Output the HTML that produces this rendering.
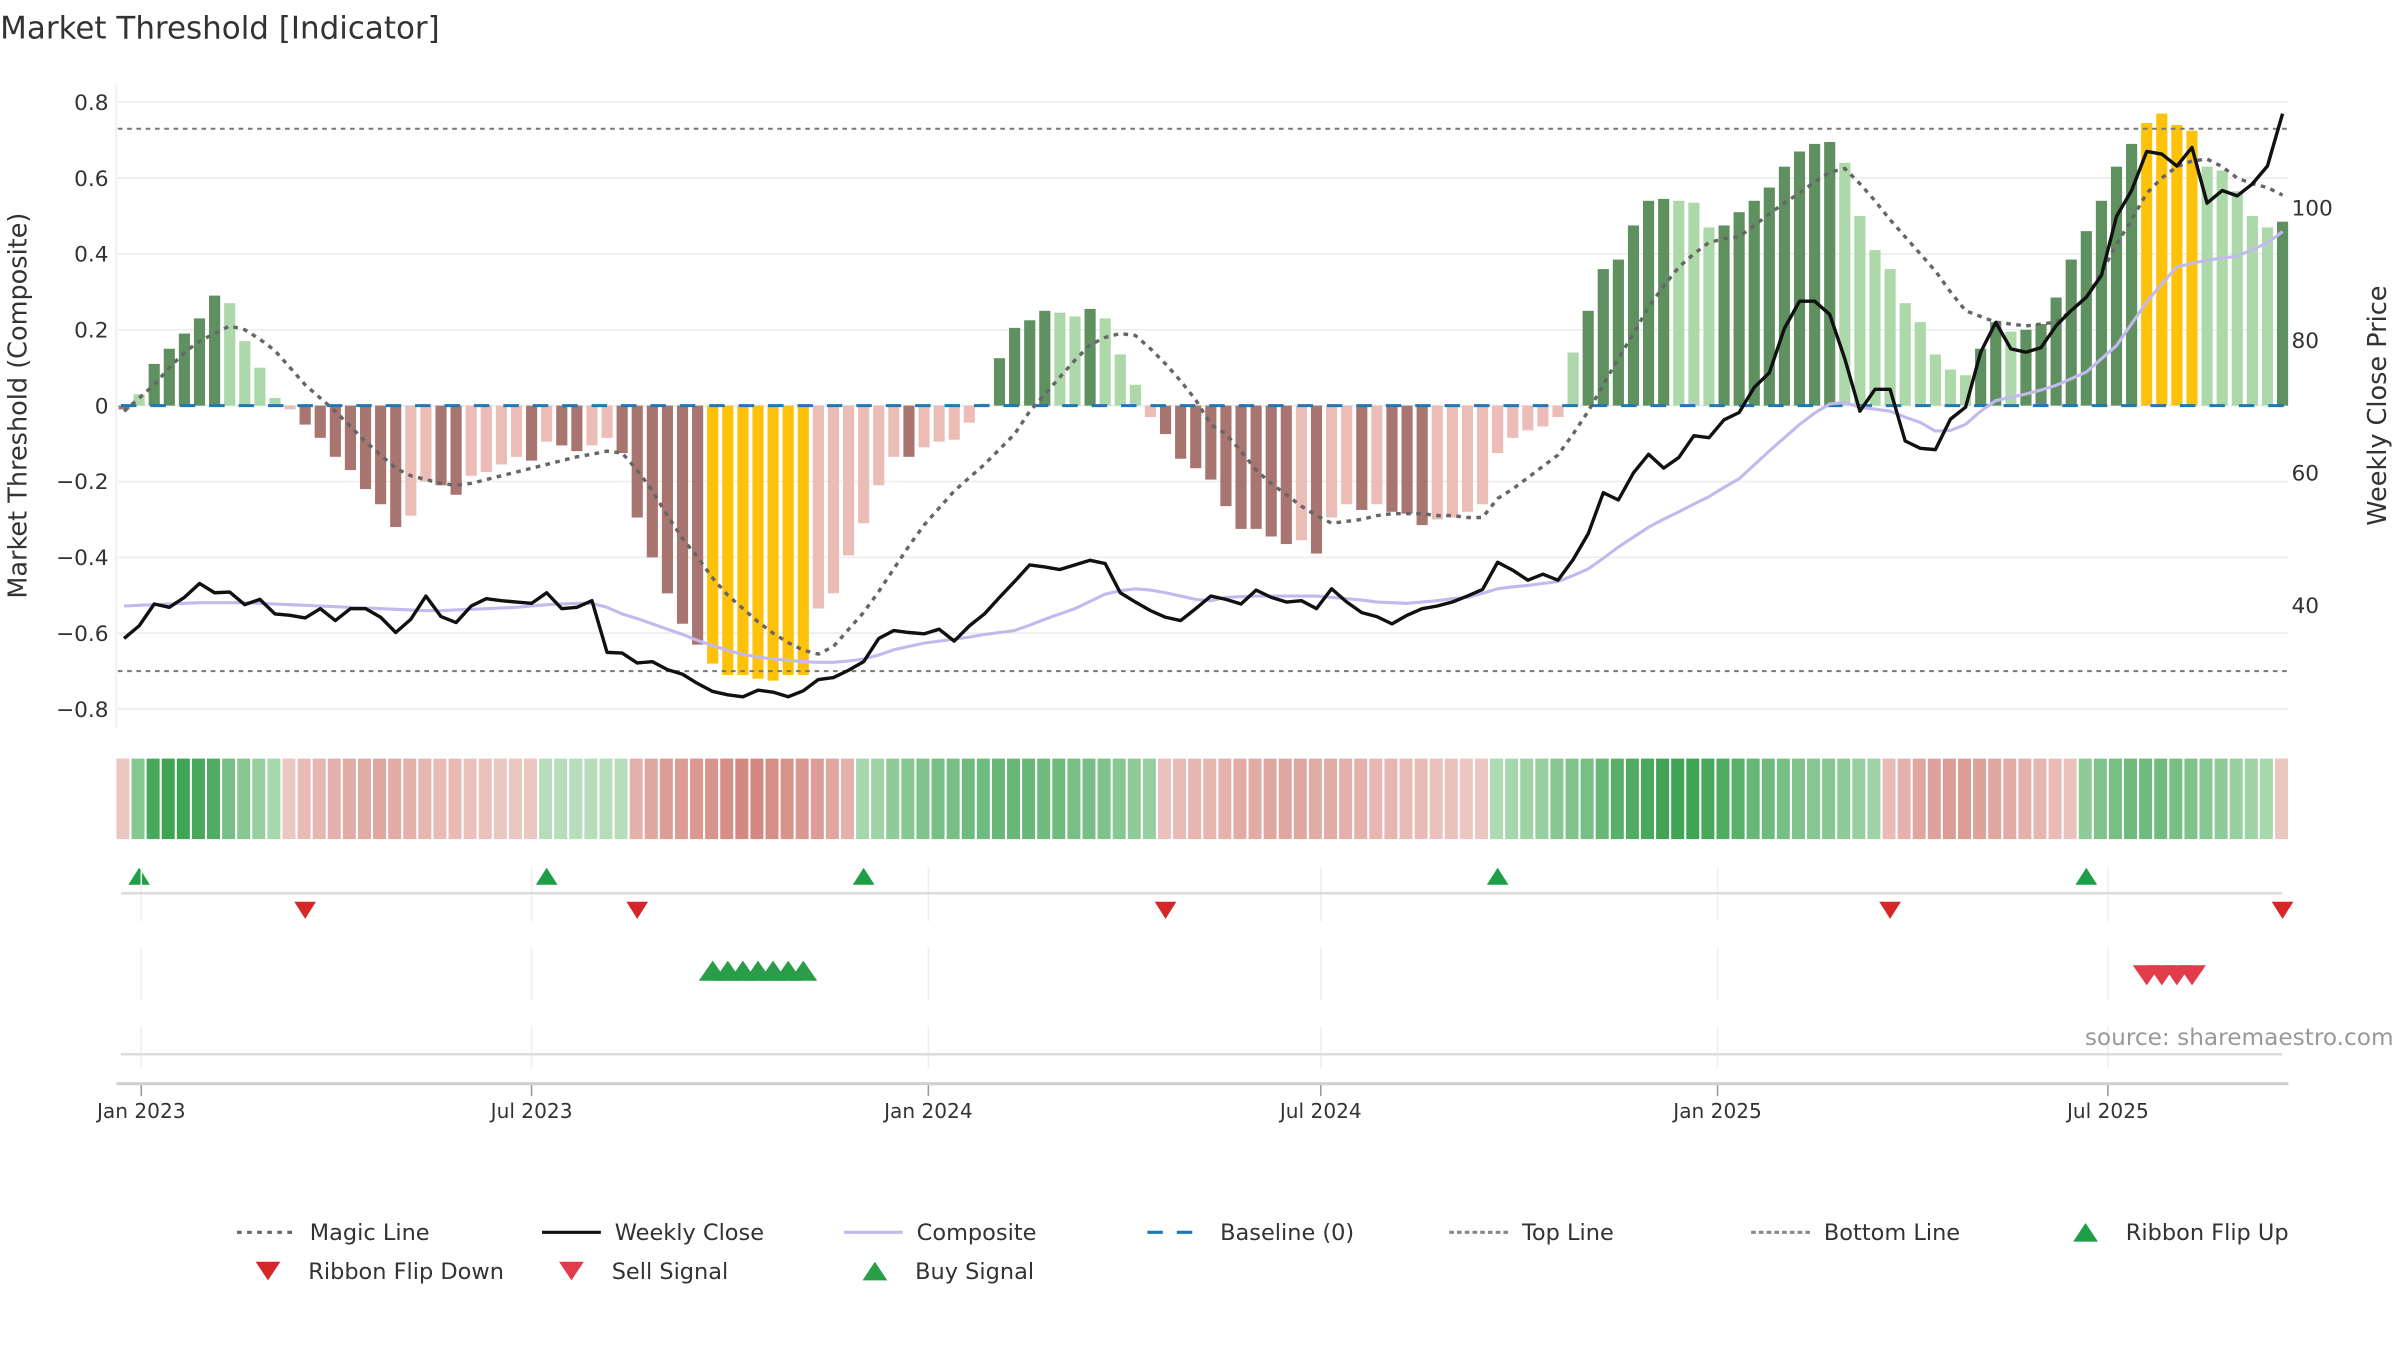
<!DOCTYPE html>
<html><head><meta charset="utf-8"><title>Market Threshold [Indicator]</title>
<style>
html,body{margin:0;padding:0;background:#fff;}
svg{display:block;font-family:"DejaVu Sans","Liberation Sans",sans-serif;}
</style></head>
<body>
<svg id="chart" width="2400" height="1350" viewBox="0 0 1550 872" xmlns="http://www.w3.org/2000/svg">
<text x="0" y="25" font-size="20" fill="#333">Market Threshold [Indicator]</text>
<g id="grid"></g>
<g id="bars"></g>
<g id="lines"></g>
<g id="ribbon"></g>
<g id="signals"></g>
<g id="axes"></g>
<text transform="translate(17,262) rotate(-90)" text-anchor="middle" font-size="16.5" fill="#333">Market Threshold (Composite)</text>
<text transform="translate(1541,262) rotate(-90)" text-anchor="middle" font-size="16.5" fill="#333">Weekly Close Price</text>
<text x="1546" y="675" text-anchor="end" font-size="15" fill="#999">source: sharemaestro.com</text>
<g id="legend"></g>
</svg>
<script>
// ---- data ----
const startDate = Date.UTC(2022,11,24);
const composite = [
-0.01,0.03,0.11,0.15,0.19,0.23,0.29,0.27,0.17,0.10,
0.02,-0.01,-0.05,-0.085,-0.135,-0.17,-0.22,-0.26,-0.32,-0.29,
-0.2,-0.21,-0.235,-0.185,-0.175,-0.155,-0.135,-0.145,-0.095,-0.105,
-0.12,-0.105,-0.085,-0.125,-0.295,-0.4,-0.495,-0.575,-0.63,-0.68,
-0.71,-0.71,-0.72,-0.725,-0.71,-0.71,-0.535,-0.495,-0.395,-0.31,
-0.21,-0.135,-0.135,-0.11,-0.095,-0.09,-0.045,0.005,0.125,0.205,
0.225,0.25,0.245,0.235,0.255,0.23,0.135,0.055,-0.03,-0.075,
-0.14,-0.165,-0.195,
-0.265,-0.325,-0.325,-0.345,-0.365,-0.355,-0.39,-0.295,-0.26,-0.275,
-0.26,-0.28,-0.285,-0.315,-0.30,-0.295,-0.28,-0.26,-0.125,-0.085,
-0.065,-0.055,-0.03,0.14,0.25,0.36,0.385,0.475,0.54,0.545,
0.54,0.535,0.47,0.475,0.51,0.54,0.575,0.63,0.67,0.69,
0.695,0.64,0.50,0.41,0.36,0.27,0.22,0.135,0.095,0.08,
0.15,0.22,0.195,0.20,0.215,0.285,0.385,0.46,0.54,0.63,
0.69,0.745,0.77,0.74,0.725,0.63,0.62,0.565,0.50,0.47,
0.485];
const weeklyClose = [
35.0,36.9,40.2,39.7,41.2,43.3,41.9,42.0,40.1,40.9,
38.7,38.5,38.1,39.5,37.7,39.5,39.5,38.2,35.9,37.9,
41.4,38.3,37.4,39.9,41.0,40.7,40.5,40.3,41.9,39.5,
39.7,40.7,32.9,32.8,31.3,31.5,30.3,29.6,28.2,27.0,
26.5,26.2,27.2,26.9,26.2,27.1,28.8,29.1,30.2,31.5,
35.0,36.2,35.9,35.7,36.4,34.6,36.9,38.7,41.2,43.6,
46.1,45.8,45.4,46.1,46.8,46.3,41.9,40.5,39.2,38.2,
37.7,39.5,41.4,
40.9,40.2,42.3,41.2,40.5,40.7,39.5,42.5,40.5,38.9,
38.3,37.2,38.5,39.5,39.9,40.5,41.4,42.4,46.5,45.3,
43.8,44.7,43.8,46.9,50.8,57.0,55.9,60.0,62.8,60.7,
62.3,65.6,65.3,68.0,69.1,72.9,75.1,81.8,85.9,85.9,
83.9,77.2,69.3,72.6,72.6,64.8,63.7,63.5,68.1,69.9,
78.2,82.7,78.7,78.2,78.9,82.2,84.5,86.5,89.8,98.7,
102.6,108.5,108.1,106.3,109.1,100.7,102.6,101.8,103.6,106.3,
114.2];
const compositeLine = [
39.9,40.0,40.1,40.2,40.3,40.4,40.4,40.4,40.4,40.3,
40.2,40.1,40.0,39.9,39.8,39.7,39.6,39.5,39.4,39.3,
39.2,39.2,39.3,39.4,39.5,39.6,39.7,39.9,40.1,40.2,
40.3,40.3,39.7,38.7,38.0,37.2,36.4,35.6,34.7,33.9,
33.2,32.6,32.2,31.9,31.7,31.5,31.4,31.4,31.6,31.9,
32.5,33.3,33.8,34.3,34.6,34.9,35.2,35.6,35.9,36.2,
37.0,37.9,38.7,39.5,40.6,41.7,42.2,42.5,42.3,41.9,
41.4,40.9,40.7,
41.2,41.3,41.4,41.4,41.4,41.4,41.4,41.2,41.0,40.8,
40.5,40.4,40.3,40.5,40.7,41.0,41.2,41.8,42.5,42.8,
43.0,43.3,43.6,44.5,45.5,47.1,48.8,50.3,51.8,53.0,
54.1,55.3,56.4,57.8,59.1,61.2,63.3,65.3,67.3,69.0,
70.4,70.6,69.9,69.6,69.3,68.4,67.6,66.3,66.4,67.3,
69.3,70.9,71.4,71.9,72.5,73.2,74.2,75.2,77.2,79.2,
82.5,85.8,88.5,91.1,91.6,92.1,92.4,92.7,93.7,94.7,96.4];
const magicLine = [
-0.015,0.02,0.055,0.10,0.14,0.17,0.19,0.21,0.20,0.175,
0.145,0.10,0.055,0.02,-0.015,-0.055,-0.095,-0.13,-0.165,-0.185,
-0.195,-0.205,-0.21,-0.205,-0.195,-0.185,-0.175,-0.165,-0.155,-0.145,
-0.135,-0.128,-0.12,-0.125,-0.17,-0.225,-0.29,-0.35,-0.40,-0.455,
-0.50,-0.535,-0.57,-0.60,-0.625,-0.645,-0.655,-0.635,-0.59,-0.545,
-0.49,-0.43,-0.37,-0.315,-0.27,-0.225,-0.19,-0.155,-0.115,-0.075,
-0.015,0.03,0.075,0.12,0.16,0.18,0.19,0.185,0.15,0.11,
0.065,0.015,-0.05,
-0.075,-0.12,-0.17,-0.205,-0.235,-0.265,-0.29,-0.31,-0.305,-0.30,
-0.29,-0.285,-0.285,-0.285,-0.29,-0.29,-0.295,-0.295,-0.245,-0.22,
-0.19,-0.16,-0.13,-0.075,-0.015,0.055,0.125,0.19,0.26,0.315,
0.365,0.40,0.43,0.44,0.445,0.475,0.505,0.535,0.56,0.59,
0.615,0.625,0.585,0.54,0.49,0.445,0.40,0.355,0.30,0.25,
0.235,0.22,0.215,0.21,0.215,0.22,0.25,0.285,0.35,0.425,
0.49,0.56,0.60,0.63,0.645,0.65,0.63,0.60,0.585,0.575,
0.555];
const ribbon = [
-0.2,0.5,0.9,0.95,0.95,0.9,0.85,0.6,0.5,0.4,0.3,
-0.2,-0.3,-0.35,-0.4,-0.45,-0.45,-0.5,-0.45,-0.4,-0.35,-0.3,-0.3,-0.25,-0.25,-0.2,-0.2,-0.2,
0.2,0.2,0.2,0.2,0.2,0.2,
-0.4,-0.5,-0.6,-0.6,-0.65,-0.7,-0.75,-0.8,-0.8,-0.75,-0.7,-0.65,-0.6,-0.5,-0.4,
0.3,0.35,0.45,0.5,0.55,0.6,0.6,0.65,0.65,0.7,0.7,0.7,0.65,0.65,0.6,0.6,0.55,0.5,0.45,0.4,
-0.25,-0.3,-0.35,-0.35,-0.4,-0.45,-0.45,-0.5,-0.5,-0.5,-0.45,-0.45,-0.4,-0.4,-0.35,-0.35,-0.3,-0.3,-0.25,-0.25,-0.2,-0.2,
0.25,0.3,0.35,0.4,0.5,0.55,0.6,0.7,0.8,0.85,0.9,0.95,0.95,0.95,0.9,0.85,0.8,0.7,0.65,0.6,0.55,0.5,0.5,0.45,0.4,0.35,
-0.3,-0.4,-0.5,-0.55,-0.6,-0.6,-0.55,-0.5,-0.45,-0.4,-0.35,-0.3,-0.25,
0.45,0.55,0.6,0.65,0.65,0.65,0.6,0.55,0.5,0.45,0.4,0.35,0.3,
-0.2];
const flipUpIdx = [1,28,49,91,130];
const flipDownIdx = [12,34,69,117,143];
const buyIdx = [39,40,41,42,43,44,45];
const sellIdx = [134,135,136,137];
const leftTicks = [0.8,0.6,0.4,0.2,0,-0.2,-0.4,-0.6,-0.8];
const leftTickLabels = ["0.8","0.6","0.4","0.2","0","\u22120.2","\u22120.4","\u22120.6","\u22120.8"];
const rightTicks = [100,80,60,40];
const dateTicks = [[2023,0],[2023,6],[2024,0],[2024,6],[2025,0],[2025,6]];
const dateTickLabels = ["Jan 2023","Jul 2023","Jan 2024","Jul 2024","Jan 2025","Jul 2025"];
const topLine = 0.73, bottomLine = -0.70;

// ---- scales ----
const NS = "http://www.w3.org/2000/svg";
const X0 = 80, STEP = 9.75;
const xI = i => X0 + i*STEP;
const xDate = (y,m) => xI((Date.UTC(y,m,1)-startDate)/(7*864e5));
const yL = v => 262 - v*245;
const yR = p => 391 - (p-40)*4.28;
function mk(tag, attrs, parent){const e=document.createElementNS(NS,tag);for(const k in attrs)e.setAttribute(k,attrs[k]);parent.appendChild(e);return e;}
const G = id => document.getElementById(id);

// grid
const grid = G('grid');
leftTicks.forEach((t,k)=>{
  const l = mk('line',{x1:76,x2:1478,y1:yL(t),y2:yL(t),stroke:'#ececec','stroke-width':1},grid);
  
  
  const tx = mk('text',{x:70,y:yL(t)+5,'text-anchor':'end','font-size':14,fill:'#333'},grid);
  tx.textContent = leftTickLabels[k];
  
  
});
mk('line',{x1:75,x2:75,y1:55,y2:470,stroke:'#eeeeee','stroke-width':1},grid);
rightTicks.forEach(p=>{
  const tx = mk('text',{x:1480,y:yR(p)+5,'font-size':14,fill:'#333'},grid);
  tx.textContent = String(p);
  
  
});

// bars
const bars = G('bars');
composite.forEach((v,i)=>{
  const p = i>0 ? composite[i-1] : v;
  let c;
  if (v<=-0.66 || v>=0.72) c='#ffc20a';
  else if (v>=0){ c = (p>0 && v>=p) ? '#5f9160' : '#acd8aa'; }
  else { c = (p<0 && v<=p) ? '#a87570' : '#ecbdb7'; }
  const y1 = yL(Math.max(v,0)), y2 = yL(Math.min(v,0));
  const r = mk('rect',{x:xI(i)-3.6,y:y1,width:7.2,height:Math.max(y2-y1,0.5),fill:c},bars);
  
  
});

// lines
const lines = G('lines');
function path(arr, fy){return arr.map((v,i)=>(i?'L':'M')+xI(i).toFixed(2)+','+fy(v).toFixed(2)).join(' ');}
const tl = mk('line',{x1:76,x2:1478,y1:yL(topLine),y2:yL(topLine),stroke:'#777','stroke-width':1.3,'stroke-dasharray':'3,3'},lines);


const bl = mk('line',{x1:76,x2:1478,y1:yL(bottomLine),y2:yL(bottomLine),stroke:'#777','stroke-width':1.3,'stroke-dasharray':'3,3'},lines);


const base = mk('line',{x1:78,x2:1476,y1:yL(0),y2:yL(0),stroke:'#1f77b4','stroke-width':2,'stroke-dasharray':'10,9'},lines);


const cl = mk('path',{d:path(compositeLine,yR),fill:'none',stroke:'#c3b9ee','stroke-width':2},lines);


const ml = mk('path',{d:path(magicLine,yL),fill:'none',stroke:'#666','stroke-width':2.2,'stroke-dasharray':'3,3.5'},lines);


const wc = mk('path',{d:path(weeklyClose,yR),fill:'none',stroke:'#111','stroke-width':2.2,'stroke-linejoin':'round'},lines);



// ribbon
const rib = G('ribbon');
function mix(a,b,t){return 'rgb('+a.map((x,k)=>Math.round(x+(b[k]-x)*t)).join(',')+')';}
ribbon.forEach((v,i)=>{
  const t = Math.min(Math.abs(v),1);
  const c = v>=0 ? mix([214,238,214],[56,160,78],t) : mix([244,218,214],[204,116,108],t);
  const r = mk('rect',{x:xI(i)-4.9,y:490,width:8.4,height:52,fill:c},rib);
  
  
});

// signal panels & axes
const ax = G('axes'), sig = G('signals');
dateTicks.forEach(([y,m],k)=>{
  const x = xDate(y,m);
  [[560,595],[612,646],[663,690]].forEach(([a,b])=>mk('line',{x1:x,x2:x,y1:a,y2:b,stroke:'#eef0f0','stroke-width':1},ax));
  mk('line',{x1:x,x2:x,y1:700,y2:708,stroke:'#999','stroke-width':1},ax);
  const tx = mk('text',{x:x,y:722,'text-anchor':'middle','font-size':13,fill:'#333'},ax);
  tx.textContent = dateTickLabels[k];
  
  
});
mk('line',{x1:78,x2:1474,y1:577,y2:577,stroke:'#dcdcdc','stroke-width':1.6},ax);
mk('line',{x1:78,x2:1474,y1:681,y2:681,stroke:'#dcdcdc','stroke-width':1.6},ax);
const xa = mk('line',{x1:75,x2:1478,y1:700,y2:700,stroke:'#d0d0d0','stroke-width':2},ax);



function tri(x,y,up,w,h,c,parent){
  const d = up ? `M${x-w/2},${y+h/2} L${x},${y-h/2} L${x+w/2},${y+h/2} Z` : `M${x-w/2},${y-h/2} L${x},${y+h/2} L${x+w/2},${y-h/2} Z`;
  return mk('path',{d:d,fill:c},parent);
}
flipUpIdx.forEach(i=>{const t=tri(xI(i),566,true,14,11,'#1f9e48',sig);
  
  });
flipDownIdx.forEach(i=>{const t=tri(xI(i),588,false,14,11,'#d62728',sig);
  
  });
buyIdx.forEach(i=>{const t=tri(xI(i),627,true,18,13,'#2a9d48',sig);
  
  });
sellIdx.forEach(i=>{const t=tri(xI(i),630,false,18,13,'#e03c4a',sig);
  
  });

// legend
const lg = G('legend');
const legendItems = [
  ['Magic Line','dash',153,796,'#666','3,3.5'],
  ['Weekly Close','line',350,796,'#111',null],
  ['Composite','line',545,796,'#c3b9ee',null],
  ['Baseline (0)','dash',741,796,'#1f77b4','10,9'],
  ['Top Line','dash',936,796,'#888','3,2'],
  ['Bottom Line','dash',1131,796,'#888','3,2'],
  ['Ribbon Flip Up','up',1347,796,'#1f9e48',null],
  ['Ribbon Flip Down','down',173,821,'#d62728',null],
  ['Sell Signal','down',369,821,'#e03c4a',null],
  ['Buy Signal','up',565,821,'#2a9d48',null]
];
legendItems.forEach(([label,kind,x,y,c,dash])=>{
  const g = mk('g',{},lg);
  
  
  let tx;
  if (kind==='line' || kind==='dash'){
    const a = {x1:x,x2:x+38,y1:y,y2:y,stroke:c,'stroke-width':2};
    if (dash) a['stroke-dasharray']=dash;
    mk('line',a,g);
    tx = x+47;
  } else {
    tri(x,y,kind==='up',16,12,c,g);
    tx = x+26;
  }
  const t = mk('text',{x:tx,y:y+5,'font-size':14.5,fill:'#333'},g);
  t.textContent = label;
});
</script>
</body></html>
